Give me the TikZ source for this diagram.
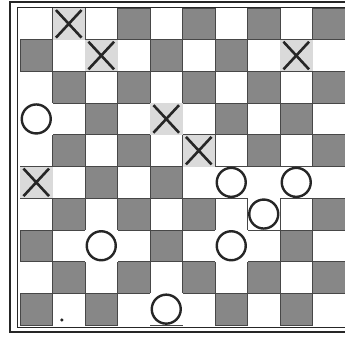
\documentclass[tikz,border=0pt]{standalone}
\usetikzlibrary{shapes.misc}
\definecolor{Ink}{RGB}{38,38,38}
\definecolor{DarkSq}{RGB}{135,135,135}
\definecolor{PaleSq}{RGB}{218,218,218}
\tikzset{
  darksq/.style={draw=Ink!85,fill=DarkSq,line width=.8pt},
  xsq/.style={fill=PaleSq},
  osq/.style={fill=white},
  xpiece/.style={cross out,draw=Ink,line width=2.6pt,minimum width=23pt,minimum height=25pt,inner sep=0pt},
  opiece/.style={circle,draw=Ink,line width=2.4pt,fill=white,minimum size=29pt,inner sep=0pt},
  frame/.style={draw=Ink,line width=1.6pt},
  dot/.style={circle,fill=Ink,minimum size=3.5pt,inner sep=0pt}
}
\begin{document}
\begin{tikzpicture}[x=32.5pt,y=-31.7pt]
  \useasboundingbox (-20pt,8pt) rectangle (325pt,-332pt);
  \clip (-20pt,8pt) rectangle (325pt,-332pt);
  % frame
  \draw[frame] (-10pt,6pt) rectangle (340pt,-324pt);
  \draw[frame,line width=1pt] (-2pt,0pt) rectangle (332pt,-319pt);
  % board
  \foreach \r in {1,...,10} {
    \foreach \c in {1,...,10} {
      \pgfmathtruncatemacro{\odd}{mod(\r+\c,2)}
      \ifnum\odd=1
        \draw[darksq] (\c-1,\r-1) rectangle (\c,\r);
      \fi
    }
  }
  \foreach \r/\c in {1/2,2/3,2/9,4/5,5/6,6/1}
    \fill[xsq] (\c-1,\r-1) rectangle (\c,\r);
  \foreach \r/\c in {4/1,6/7,6/9,7/8,8/3,8/7,10/5}
    \fill[osq] (\c-1,\r-1) rectangle (\c,\r);
  % crosses
  \node[xpiece] (x1) at (1.5,0.5) {};
  \node[xpiece] (x2) at (2.5,1.5) {};
  \node[xpiece] (x3) at (8.5,1.5) {};
  \node[xpiece] (x4) at (4.5,3.5) {};
  \node[xpiece] (x5) at (5.5,4.5) {};
  \node[xpiece] (x6) at (0.5,5.5) {};
  % rings
  \node[opiece] (o1) at (0.5,3.5) {};
  \node[opiece] (o2) at (6.5,5.5) {};
  \node[opiece] (o3) at (8.5,5.5) {};
  \node[opiece] (o4) at (7.5,6.5) {};
  \node[opiece] (o5) at (2.5,7.5) {};
  \node[opiece] (o6) at (6.5,7.5) {};
  \node[opiece] (o7) at (4.5,9.5) {};
  \node[dot] (spot) at (1.29,9.84) {};
\end{tikzpicture}
\end{document}
